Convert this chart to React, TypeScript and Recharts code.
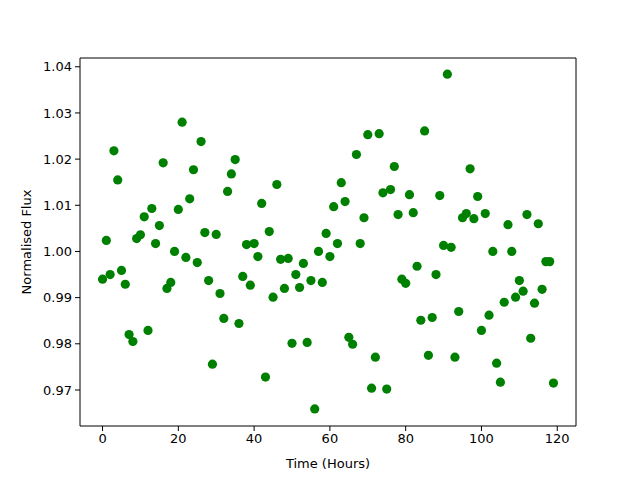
import React from "react";
import {
  ScatterChart,
  Scatter,
  XAxis,
  YAxis,
  ReferenceArea,
  Label,
} from "recharts";

// Time in hours, one sample per hour
const hours: number[] = Array.from({ length: 120 }, (_, i) => i);

const flux: number[] = [
  0.994, 1.0024, 0.995, 1.0218, 1.0155, 0.9959, 0.9929, 0.982, 0.9805, 1.0028,
  1.0036, 1.0075, 0.9829, 1.0093, 1.0017, 1.0056, 1.0192, 0.992, 0.9933, 1.0,
  1.0091, 1.028, 0.9987, 1.0114, 1.0177, 0.9976, 1.0238, 1.0041, 0.9937, 0.9756,
  1.0037, 0.9909, 0.9855, 1.013, 1.0168, 1.0199, 0.9844, 0.9946, 1.0015, 0.9927,
  1.0017, 0.9989, 1.0104, 0.9728, 1.0043, 0.9901, 1.0145, 0.9983, 0.992, 0.9985,
  0.9801, 0.995, 0.9922, 0.9974, 0.9803, 0.9937, 0.9659, 1.0, 0.9933, 1.0039,
  0.9989, 1.0097, 1.0017, 1.0149, 1.0108, 0.9814, 0.9799, 1.021, 1.0017, 1.0073,
  1.0253, 0.9704, 0.9771, 1.0255, 1.0127, 0.9702, 1.0134, 1.0184, 1.008, 0.994,
  0.9931, 1.0123, 1.0084, 0.9968, 0.9851, 1.0261, 0.9775, 0.9857, 0.995, 1.0121,
  1.0013, 1.0384, 1.0009, 0.9771, 0.987, 1.0073, 1.0082, 1.0179, 1.0071, 1.0119,
  0.9829, 1.0082, 0.9862, 1.0, 0.9758, 0.9717, 0.989, 1.0058, 1.0, 0.9901,
  0.9937, 0.9914, 1.008, 0.9812, 0.9888, 1.006, 0.9918, 0.9978, 0.9978, 0.9715,
];

const xTicks = [0, 20, 40, 60, 80, 100, 120];
const yTicks = [0.97, 0.98, 0.99, 1.0, 1.01, 1.02, 1.03, 1.04];

const X_DOMAIN: [number, number] = [-5.95, 124.95];
const Y_DOMAIN: [number, number] = [0.9622, 1.0419];

const font = "DejaVu Sans";

const Dot = (props: any) => (
  <circle cx={props.cx} cy={props.cy} r={4.6} fill="#008000" />
);

export default function App() {
  const data = hours.map((h, i) => ({ t: h, f: flux[i] }));
  return (
    <div style={{ position: "absolute", left: 0, top: 0, background: "#fff" }}>
      <ScatterChart
        width={640}
        height={480}
        margin={{ top: 58, right: 64, bottom: 0, left: 0 }}
      >
        <XAxis
          type="number"
          dataKey="t"
          domain={X_DOMAIN}
          ticks={xTicks}
          allowDataOverflow
          height={54}
          tickSize={5}
          tickMargin={3}
          axisLine={false}
          tickLine={{ stroke: "#000" }}
          tick={{ fill: "#000", fontSize: 13, fontFamily: font }}
        >
          <Label
            value="Time (Hours)"
            position="insideBottom"
            offset={12}
            style={{ fill: "#000", fontSize: 13, fontFamily: font }}
          />
        </XAxis>
        <YAxis
          type="number"
          dataKey="f"
          domain={Y_DOMAIN}
          ticks={yTicks}
          allowDataOverflow
          width={80}
          tickSize={5}
          tickMargin={3}
          axisLine={false}
          tickLine={{ stroke: "#000" }}
          tickFormatter={(v: number) => v.toFixed(2)}
          tick={{ fill: "#000", fontSize: 13, fontFamily: font }}
        >
          <Label
            value="Normalised Flux"
            angle={-90}
            position="center"
            dx={-14}
            style={{ fill: "#000", fontSize: 13, fontFamily: font, textAnchor: "middle" }}
          />
        </YAxis>
        <Scatter
          data={data}
          shape={Dot}
          isAnimationActive={false}
        />
        <ReferenceArea
          x1={X_DOMAIN[0]}
          x2={X_DOMAIN[1]}
          y1={Y_DOMAIN[0]}
          y2={Y_DOMAIN[1]}
          fill="none"
          stroke="#000"
          strokeWidth={1}
          ifOverflow="visible"
        />
      </ScatterChart>
    </div>
  );
}
